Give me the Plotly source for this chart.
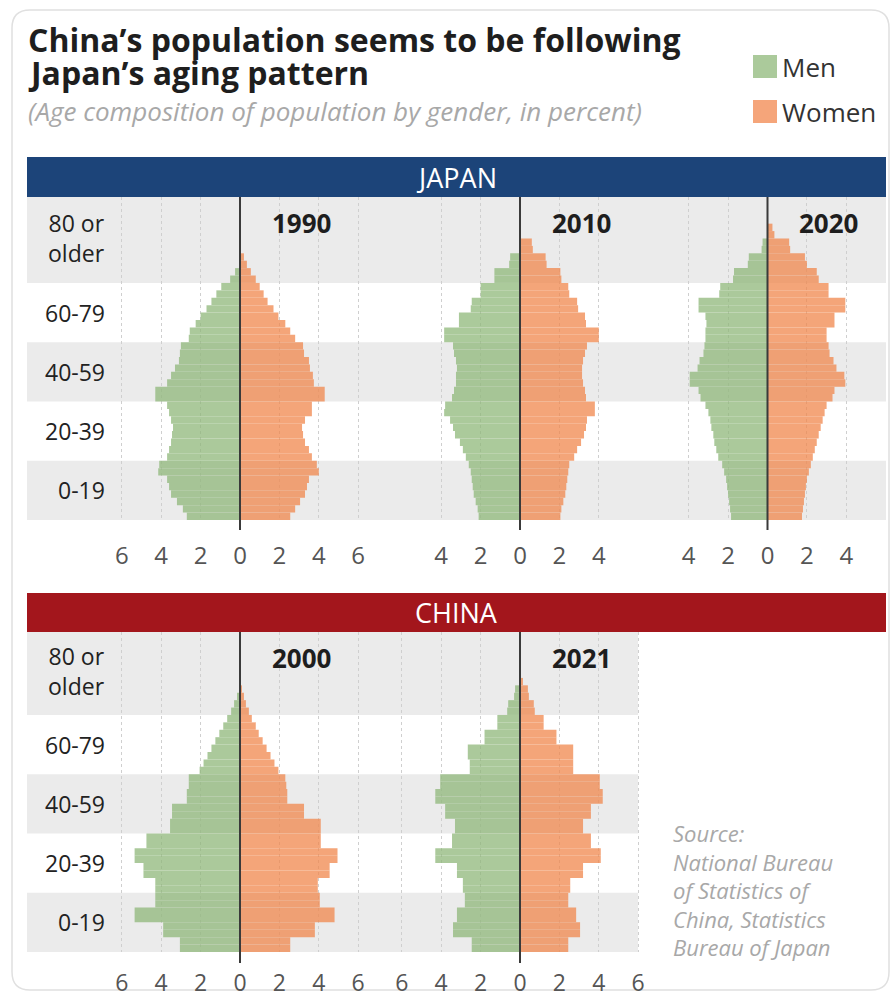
import plotly.graph_objects as go

W, H = 892, 995

# ---------------- data (percent of each gender, 2.5-year age steps from age 0) ----------------
AGE_STEP = 2.5
BAND_LABELS = ["0-19", "20-39", "40-59", "60-79", "80 or<br>older"]
BAND_CENTERS = [10, 30, 50, 70, 95]

JP1990_MEN = [2.7, 2.9, 3.2, 3.5, 3.6, 3.7, 4.15, 4.1,
              3.7, 3.6, 3.5, 3.45, 3.4, 3.5, 3.6, 3.7,
              4.3, 4.3, 3.7, 3.5, 3.3, 3.1, 3.05, 3.0,
              2.6, 2.55, 2.25, 2.0, 1.7, 1.45, 1.2, 0.95,
              0.5, 0.25]
JP1990_WOMEN = [2.55, 2.8, 3.05, 3.3, 3.4, 3.5, 4.0, 3.9,
                3.65, 3.5, 3.3, 3.2, 3.15, 3.3, 3.65, 3.65,
                4.3, 4.3, 3.75, 3.7, 3.55, 3.5, 3.25, 3.2,
                2.8, 2.55, 2.3, 1.95, 1.7, 1.4, 1.2, 1.0,
                0.8, 0.55, 0.35, 0.2]

JP2010_MEN = [2.1, 2.15, 2.25, 2.35, 2.4, 2.45, 2.5, 2.6,
              2.75, 2.9, 3.05, 3.3, 3.4, 3.55, 3.85, 3.8,
              3.45, 3.35, 3.25, 3.25, 3.2, 3.25, 3.35, 3.4,
              3.85, 3.85, 3.1, 3.1, 2.5, 2.45, 2.0, 2.0,
              1.3, 1.3, 0.55, 0.5]
JP2010_WOMEN = [2.05, 2.1, 2.2, 2.3, 2.35, 2.4, 2.45, 2.5,
                2.75, 2.9, 3.1, 3.25, 3.35, 3.4, 3.8, 3.8,
                3.35, 3.3, 3.2, 3.15, 3.15, 3.2, 3.3, 3.4,
                4.0, 4.0, 3.35, 3.3, 2.95, 2.9, 2.5, 2.45,
                2.1, 2.05, 1.35, 1.3, 0.65, 0.6]

JP2020_MEN = [1.85, 1.9, 1.95, 2.0, 2.05, 2.1, 2.2, 2.3,
              2.5, 2.6, 2.7, 2.75, 2.85, 2.9, 3.0, 3.15,
              3.4, 3.5, 3.95, 3.95, 3.55, 3.45, 3.25, 3.2,
              3.15, 3.15, 3.1, 3.15, 3.5, 3.5, 2.45, 2.4,
              1.75, 1.7, 1.0, 0.95, 0.3, 0.25]
JP2020_WOMEN = [1.75, 1.8, 1.85, 1.9, 1.95, 2.0, 2.1, 2.2,
                2.3, 2.4, 2.5, 2.6, 2.7, 2.8, 2.9, 3.0,
                3.3, 3.4, 3.95, 3.9, 3.5, 3.35, 3.15, 3.1,
                3.0, 3.0, 3.4, 3.4, 3.95, 3.95, 3.1, 3.1,
                2.6, 2.5, 2.0, 1.9, 1.15, 1.1, 0.35, 0.25]

CN2000_MEN = [3.05, 3.05, 3.9, 3.9, 5.35, 5.35, 4.3, 4.3,
              4.3, 4.3, 4.9, 4.9, 5.35, 5.35, 4.75, 4.75,
              3.55, 3.55, 3.45, 3.45, 2.7, 2.7, 2.6, 2.6,
              2.05, 1.85, 1.65, 1.45, 1.25, 1.05, 0.85, 0.65,
              0.45, 0.3, 0.15]
CN2000_WOMEN = [2.55, 2.55, 3.8, 3.8, 4.8, 4.8, 4.05, 4.05,
                3.95, 3.95, 4.55, 4.55, 4.95, 4.95, 4.1, 4.1,
                4.1, 4.1, 3.25, 3.25, 2.4, 2.4, 2.35, 2.3,
                1.95, 1.75, 1.55, 1.35, 1.15, 0.95, 0.8, 0.6,
                0.45, 0.3, 0.2, 0.1]

CN2021_MEN = [2.45, 2.45, 3.4, 3.4, 3.2, 3.2, 2.8, 2.8,
              2.9, 2.9, 3.2, 3.2, 4.3, 4.3, 3.45, 3.45,
              3.3, 3.3, 3.8, 3.8, 4.3, 4.3, 4.05, 4.05,
              2.55, 2.55, 2.65, 2.65, 1.8, 1.8, 1.15, 1.15,
              0.65, 0.6, 0.3, 0.25]
CN2021_WOMEN = [2.45, 2.45, 3.05, 3.05, 2.85, 2.85, 2.45, 2.45,
                2.55, 2.55, 3.2, 3.2, 4.1, 4.1, 3.6, 3.6,
                3.2, 3.2, 3.6, 3.6, 4.2, 4.2, 4.05, 4.05,
                2.7, 2.7, 2.7, 2.7, 1.85, 1.85, 1.2, 1.2,
                0.75, 0.7, 0.45, 0.4, 0.15]

JP_TICKS_WIDE = [-6, -4, -2, 0, 2, 4, 6]
JP_TICKS_NARROW = [-4, -2, 0, 2, 4]
CN_TICKS = [-6, -4, -2, 0, 2, 4, 6]

SOURCE_LINES = ["Source:", "National Bureau", "of Statistics of", "China, Statistics", "Bureau of Japan"]

# ---------------- styling ----------------
FONT = "Open Sans"
MEN_COLOR = "#8fb87a"
WOMEN_COLOR = "#f1874d"
BAR_OPACITY = 0.75
BAND_COLOR = "#ebebeb"
GRID_COLOR = "#cfcfcf"
NAVY = "#1c4479"
RED = "#a3161c"

S = 19.7  # pixels per percentage point


def px(x):
    return x / W


def py(y):
    return 1 - y / H


ROWS = {
    "y": dict(top=197, bottom=520, agetop=109, right=886, line_bottom=530, ticklen=14, tick_size=24),
    "y2": dict(top=632, bottom=952, agetop=108, right=638, line_bottom=963, ticklen=10, tick_size=23),
}

PANELS = [
    dict(year="1990", men=JP1990_MEN, women=JP1990_WOMEN, xa="x", ya="y", zero=240, half=6.5, ticks=JP_TICKS_WIDE),
    dict(year="2010", men=JP2010_MEN, women=JP2010_WOMEN, xa="x2", ya="y", zero=520, half=5.0, ticks=JP_TICKS_NARROW),
    dict(year="2020", men=JP2020_MEN, women=JP2020_WOMEN, xa="x3", ya="y", zero=767.5, half=5.0, ticks=JP_TICKS_NARROW),
    dict(year="2000", men=CN2000_MEN, women=CN2000_WOMEN, xa="x4", ya="y2", zero=240, half=6.5, ticks=CN_TICKS),
    dict(year="2021", men=CN2021_MEN, women=CN2021_WOMEN, xa="x5", ya="y2", zero=520, half=6.5, ticks=CN_TICKS),
]

fig = go.Figure()
shapes = []
annotations = []
layout_axes = {}

# card border (rounded rectangle)
L, T, R, B, r = 12, 10, 889, 990, 18
path = (f"M {px(L + r)},{py(T)} L {px(R - r)},{py(T)} "
        f"Q {px(R)},{py(T)} {px(R)},{py(T + r)} L {px(R)},{py(B - r)} "
        f"Q {px(R)},{py(B)} {px(R - r)},{py(B)} L {px(L + r)},{py(B)} "
        f"Q {px(L)},{py(B)} {px(L)},{py(B - r)} L {px(L)},{py(T + r)} "
        f"Q {px(L)},{py(T)} {px(L + r)},{py(T)} Z")
shapes.append(dict(type="path", path=path, xref="paper", yref="paper",
                   line=dict(color="#e0e0e0", width=1.5), layer="below"))

for ya, row in ROWS.items():
    key = "yaxis" if ya == "y" else "yaxis2"
    layout_axes[key] = dict(domain=[py(row["bottom"]), py(row["top"])], range=[0, row["agetop"]],
                            visible=False, fixedrange=True, automargin=False,
                            anchor="x" if ya == "y" else "x4")
    for a0, a1 in [(0, 20), (40, 60), (80, row["agetop"])]:
        shapes.append(dict(type="rect", xref="paper", yref=ya, x0=px(27), x1=px(row["right"]),
                           y0=a0, y1=a1, fillcolor=BAND_COLOR, line=dict(width=0), layer="below"))
    for lab, c in zip(BAND_LABELS, BAND_CENTERS):
        annotations.append(dict(text=lab, xref="paper", yref=ya, x=px(107), y=c, xanchor="right",
                                yanchor="middle", align="right", showarrow=False,
                                font=dict(family=FONT, size=23, color="#222")))

for p in PANELS:
    n = "" if p["xa"] == "x" else p["xa"][1:]
    row = ROWS[p["ya"]]
    centers_m = [AGE_STEP * (i + 0.5) for i in range(len(p["men"]))]
    centers_w = [AGE_STEP * (i + 0.5) for i in range(len(p["women"]))]
    fig.add_trace(go.Bar(x=[-v for v in p["men"]], y=centers_m, width=AGE_STEP, orientation="h",
                         marker=dict(color=MEN_COLOR, line=dict(width=0)), opacity=BAR_OPACITY,
                         name="Men", showlegend=False, xaxis=p["xa"], yaxis=p["ya"],
                         customdata=p["men"], hovertemplate="Men: %{customdata}%<extra></extra>"))
    fig.add_trace(go.Bar(x=p["women"], y=centers_w, width=AGE_STEP, orientation="h",
                         marker=dict(color=WOMEN_COLOR, line=dict(width=0)), opacity=BAR_OPACITY,
                         name="Women", showlegend=False, xaxis=p["xa"], yaxis=p["ya"],
                         hovertemplate="Women: %{x}%<extra></extra>"))
    layout_axes["xaxis" + n] = dict(
        domain=[px(p["zero"] - p["half"] * S), px(p["zero"] + p["half"] * S)],
        range=[-p["half"], p["half"]], anchor=p["ya"], tickvals=p["ticks"],
        ticktext=[str(abs(t)) for t in p["ticks"]], showgrid=True, gridcolor=GRID_COLOR,
        griddash="dot", gridwidth=1, zeroline=False, showline=False, ticks="outside",
        ticklen=row["ticklen"], tickcolor="rgba(0,0,0,0)", fixedrange=True, automargin=False,
        tickfont=dict(family=FONT, size=row["tick_size"], color="#555"))
    shapes.append(dict(type="line", xref=p["xa"], yref="paper", x0=0, x1=0,
                       y0=py(row["line_bottom"]), y1=py(row["top"]),
                       line=dict(color="#3a3a3a", width=2), layer="above"))
    annotations.append(dict(text=f"<b>{p['year']}</b>", xref="paper", yref="paper",
                            x=px(p["zero"] + 61), y=py(row["top"] + 26), xanchor="center",
                            yanchor="middle", showarrow=False,
                            font=dict(family=FONT, size=26, color="#1e1e1e")))

for label, color, top, bottom in [("JAPAN", NAVY, 157, 197), ("CHINA", RED, 593, 632)]:
    shapes.append(dict(type="rect", xref="paper", yref="paper", x0=px(27), x1=px(886),
                       y0=py(bottom), y1=py(top), fillcolor=color, line=dict(width=0), layer="above"))
    annotations.append(dict(text=label, xref="paper", yref="paper", x=px(456), y=py((top + bottom) / 2),
                            xanchor="center", yanchor="middle", showarrow=False,
                            font=dict(family=FONT, size=27, color="white")))

annotations.append(dict(text="<b>China’s population seems to be following</b>", xref="paper", yref="paper",
                        x=px(26), y=py(39), xanchor="left", yanchor="middle", showarrow=False,
                        font=dict(family=FONT, size=32, color="#1e1e1e")))
annotations.append(dict(text="<b>Japan’s aging pattern</b>", xref="paper", yref="paper",
                        x=px(26), y=py(73), xanchor="left", yanchor="middle", showarrow=False,
                        font=dict(family=FONT, size=32, color="#1e1e1e")))
annotations.append(dict(text="<i>(Age composition of population by gender, in percent)</i>", xref="paper",
                        yref="paper", x=px(26), y=py(111), xanchor="left", yanchor="middle",
                        showarrow=False, font=dict(family=FONT, size=26, color="#a8a8a8")))

for label, color, ytop in [("Men", MEN_COLOR, 55), ("Women", WOMEN_COLOR, 100)]:
    shapes.append(dict(type="rect", xref="paper", yref="paper", x0=px(753), x1=px(777),
                       y0=py(ytop + 23), y1=py(ytop), fillcolor=color, opacity=BAR_OPACITY,
                       line=dict(width=0)))
    annotations.append(dict(text=label, xref="paper", yref="paper", x=px(780), y=py(ytop + 12),
                            xanchor="left", yanchor="middle", showarrow=False,
                            font=dict(family=FONT, size=26, color="#333")))

annotations.append(dict(text="<i>" + "<br>".join(SOURCE_LINES) + "</i>", xref="paper", yref="paper",
                        x=px(671), y=py(816), xanchor="left", yanchor="top", align="left",
                        showarrow=False, font=dict(family=FONT, size=22, color="#a8a8a8")))

fig.update_layout(
    width=W, height=H, margin=dict(l=0, r=0, t=0, b=0, autoexpand=False),
    paper_bgcolor="white", plot_bgcolor="rgba(0,0,0,0)",
    barmode="overlay", shapes=shapes, annotations=annotations,
    font=dict(family=FONT), showlegend=False,
    **layout_axes,
)

fig.write_html("out.html", config={"displayModeBar": False},
               post_script="document.body.style.margin='0px';")
